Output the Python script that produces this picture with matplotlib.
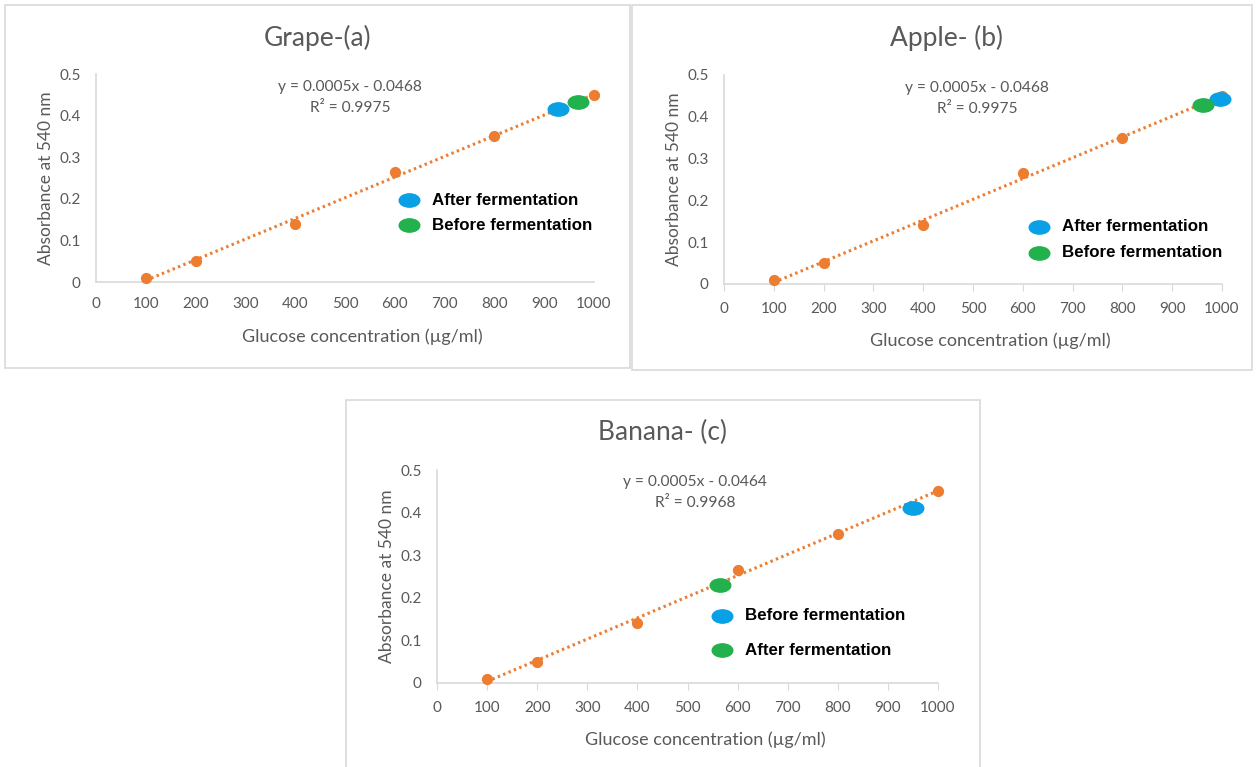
import numpy as np
import matplotlib
matplotlib.use('Agg')
from matplotlib import pyplot as plt
from matplotlib.patches import Rectangle
from matplotlib.path import Path
from matplotlib.transforms import Affine2D

# calibration data (same standards for all three fruits)
conc = [100, 200, 400, 600, 800, 1000]
absorb = [0.01, 0.05, 0.14, 0.265, 0.35, 0.45]

titles = ['Grape-(a)', 'Apple- (b)', 'Banana- (c)']
equations = ['y = 0.0005x - 0.0468', 'y = 0.0005x - 0.0468', 'y = 0.0005x - 0.0464']
r2_texts = ['R\u00b2 = 0.9975', 'R\u00b2 = 0.9975', 'R\u00b2 = 0.9968']

# samples: (label, x, y) for blue and green markers
grape_blue = ('After fermentation', 928, 0.415)
grape_green = ('Before fermentation', 968, 0.432)
apple_blue = ('After fermentation', 996, 0.443)
apple_green = ('Before fermentation', 962, 0.428)
banana_blue = ('Before fermentation', 950, 0.41)
banana_green = ('After fermentation', 565, 0.23)

xticks = [0, 100, 200, 300, 400, 500, 600, 700, 800, 900, 1000]
yticks = [0, 0.1, 0.2, 0.3, 0.4, 0.5]
ytick_labels = ['0', '0.1', '0.2', '0.3', '0.4', '0.5']

ORANGE = '#ED7D31'
BLUE = '#0AA0E6'
GREEN = '#22B14C'
GRAY = '#595959'
W, H = 1256, 767

plt.rcParams['font.family'] = ['Lato', 'DejaVu Sans']

ellipse = Path.unit_circle().transformed(Affine2D().scale(1.55, 1.0))

fig = plt.figure(figsize=(12.56, 7.67), dpi=100)


def px_rect(x0, y0, x1, y1):
    return [x0 / W, 1 - y1 / H, (x1 - x0) / W, (y1 - y0) / H]


def frame(x0, y0, x1, y1):
    fig.patches.append(Rectangle((x0 / W, 1 - y1 / H), (x1 - x0) / W, (y1 - y0) / H,
                                 transform=fig.transFigure, fill=False,
                                 edgecolor='#D9D9D9', linewidth=1.2))


def panel(rect, title, title_xy, eq, r2, eq_pos, blue, green, leg_anchor,
          leg_spacing, ticklen):
    ax = fig.add_axes(px_rect(*rect))
    slope, icpt = np.polyfit(conc, absorb, 1)
    xl = np.array([conc[0], conc[-1]])
    ax.plot(xl, slope * xl + icpt, color=ORANGE, lw=2.2, ls=(0, (0.8, 1.1)),
            zorder=2, clip_on=False)
    ax.scatter(conc, absorb, s=50, color=ORANGE, zorder=3, clip_on=False)
    hb = ax.scatter([blue[1]], [blue[2]], marker=ellipse, s=220, color=BLUE,
                    zorder=4, label=blue[0], clip_on=False)
    hg = ax.scatter([green[1]], [green[2]], marker=ellipse, s=220, color=GREEN,
                    zorder=4, label=green[0], clip_on=False)
    ax.set_xlim(0, 1000)
    ax.set_ylim(0, 0.5)
    ax.set_xticks(xticks)
    ax.set_yticks(yticks)
    ax.set_yticklabels(ytick_labels)
    for s in ['top', 'right']:
        ax.spines[s].set_visible(False)
    for s in ['left', 'bottom']:
        ax.spines[s].set_color('#D9D9D9')
        ax.spines[s].set_linewidth(1.2)
    ax.tick_params(axis='y', length=0, pad=11, labelsize=11, labelcolor=GRAY)
    ax.tick_params(axis='x', length=ticklen, color='#D9D9D9', pad=8 if ticklen else 11,
                   labelsize=11, labelcolor=GRAY)
    ax.set_xlabel('Glucose concentration (\u00b5g/ml)', fontsize=13, color=GRAY,
                  labelpad=12)
    ax.xaxis.label.set_x(0.535)
    ax.set_ylabel('Absorbance at 540 nm', fontsize=12.5, color=GRAY, labelpad=4)
    ax.patch.set_alpha(0)
    ax.text(eq_pos[0], eq_pos[1], eq, transform=ax.transAxes, ha='center',
            va='center', fontsize=11.2, color=GRAY)
    ax.text(eq_pos[0], eq_pos[1] - 0.1, r2, transform=ax.transAxes, ha='center',
            va='center', fontsize=11.2, color=GRAY)
    fig.text(title_xy[0] / W, 1 - title_xy[1] / H, title, ha='center', va='center',
             fontsize=19, color=GRAY)
    ax.legend(handles=[hb, hg], loc='upper left', bbox_to_anchor=leg_anchor,
              frameon=False, handletextpad=0.35, labelspacing=leg_spacing,
              borderaxespad=0, borderpad=0,
              prop={'family': 'Liberation Sans', 'weight': 'bold', 'size': 12.2})
    return ax


frame(5, 5, 630, 368)
frame(632, 5, 1252, 370)
frame(346, 400, 980, 770)

panel((96, 74, 594, 282), titles[0], (318, 38), equations[0], r2_texts[0],
      (0.51, 0.9375), grape_blue, grape_green, (0.595, 0.43), 0.6, 0)
panel((724, 75, 1222, 284), titles[1], (946, 38), equations[1], r2_texts[1],
      (0.508, 0.9375), apple_blue, apple_green, (0.598, 0.31), 0.65, 5)
panel((437, 470, 938, 683), titles[2], (663, 432), equations[2], r2_texts[2],
      (0.515, 0.944), banana_blue, banana_green, (0.535, 0.35), 1.15, 5)

fig.savefig('out.png', dpi=100)
